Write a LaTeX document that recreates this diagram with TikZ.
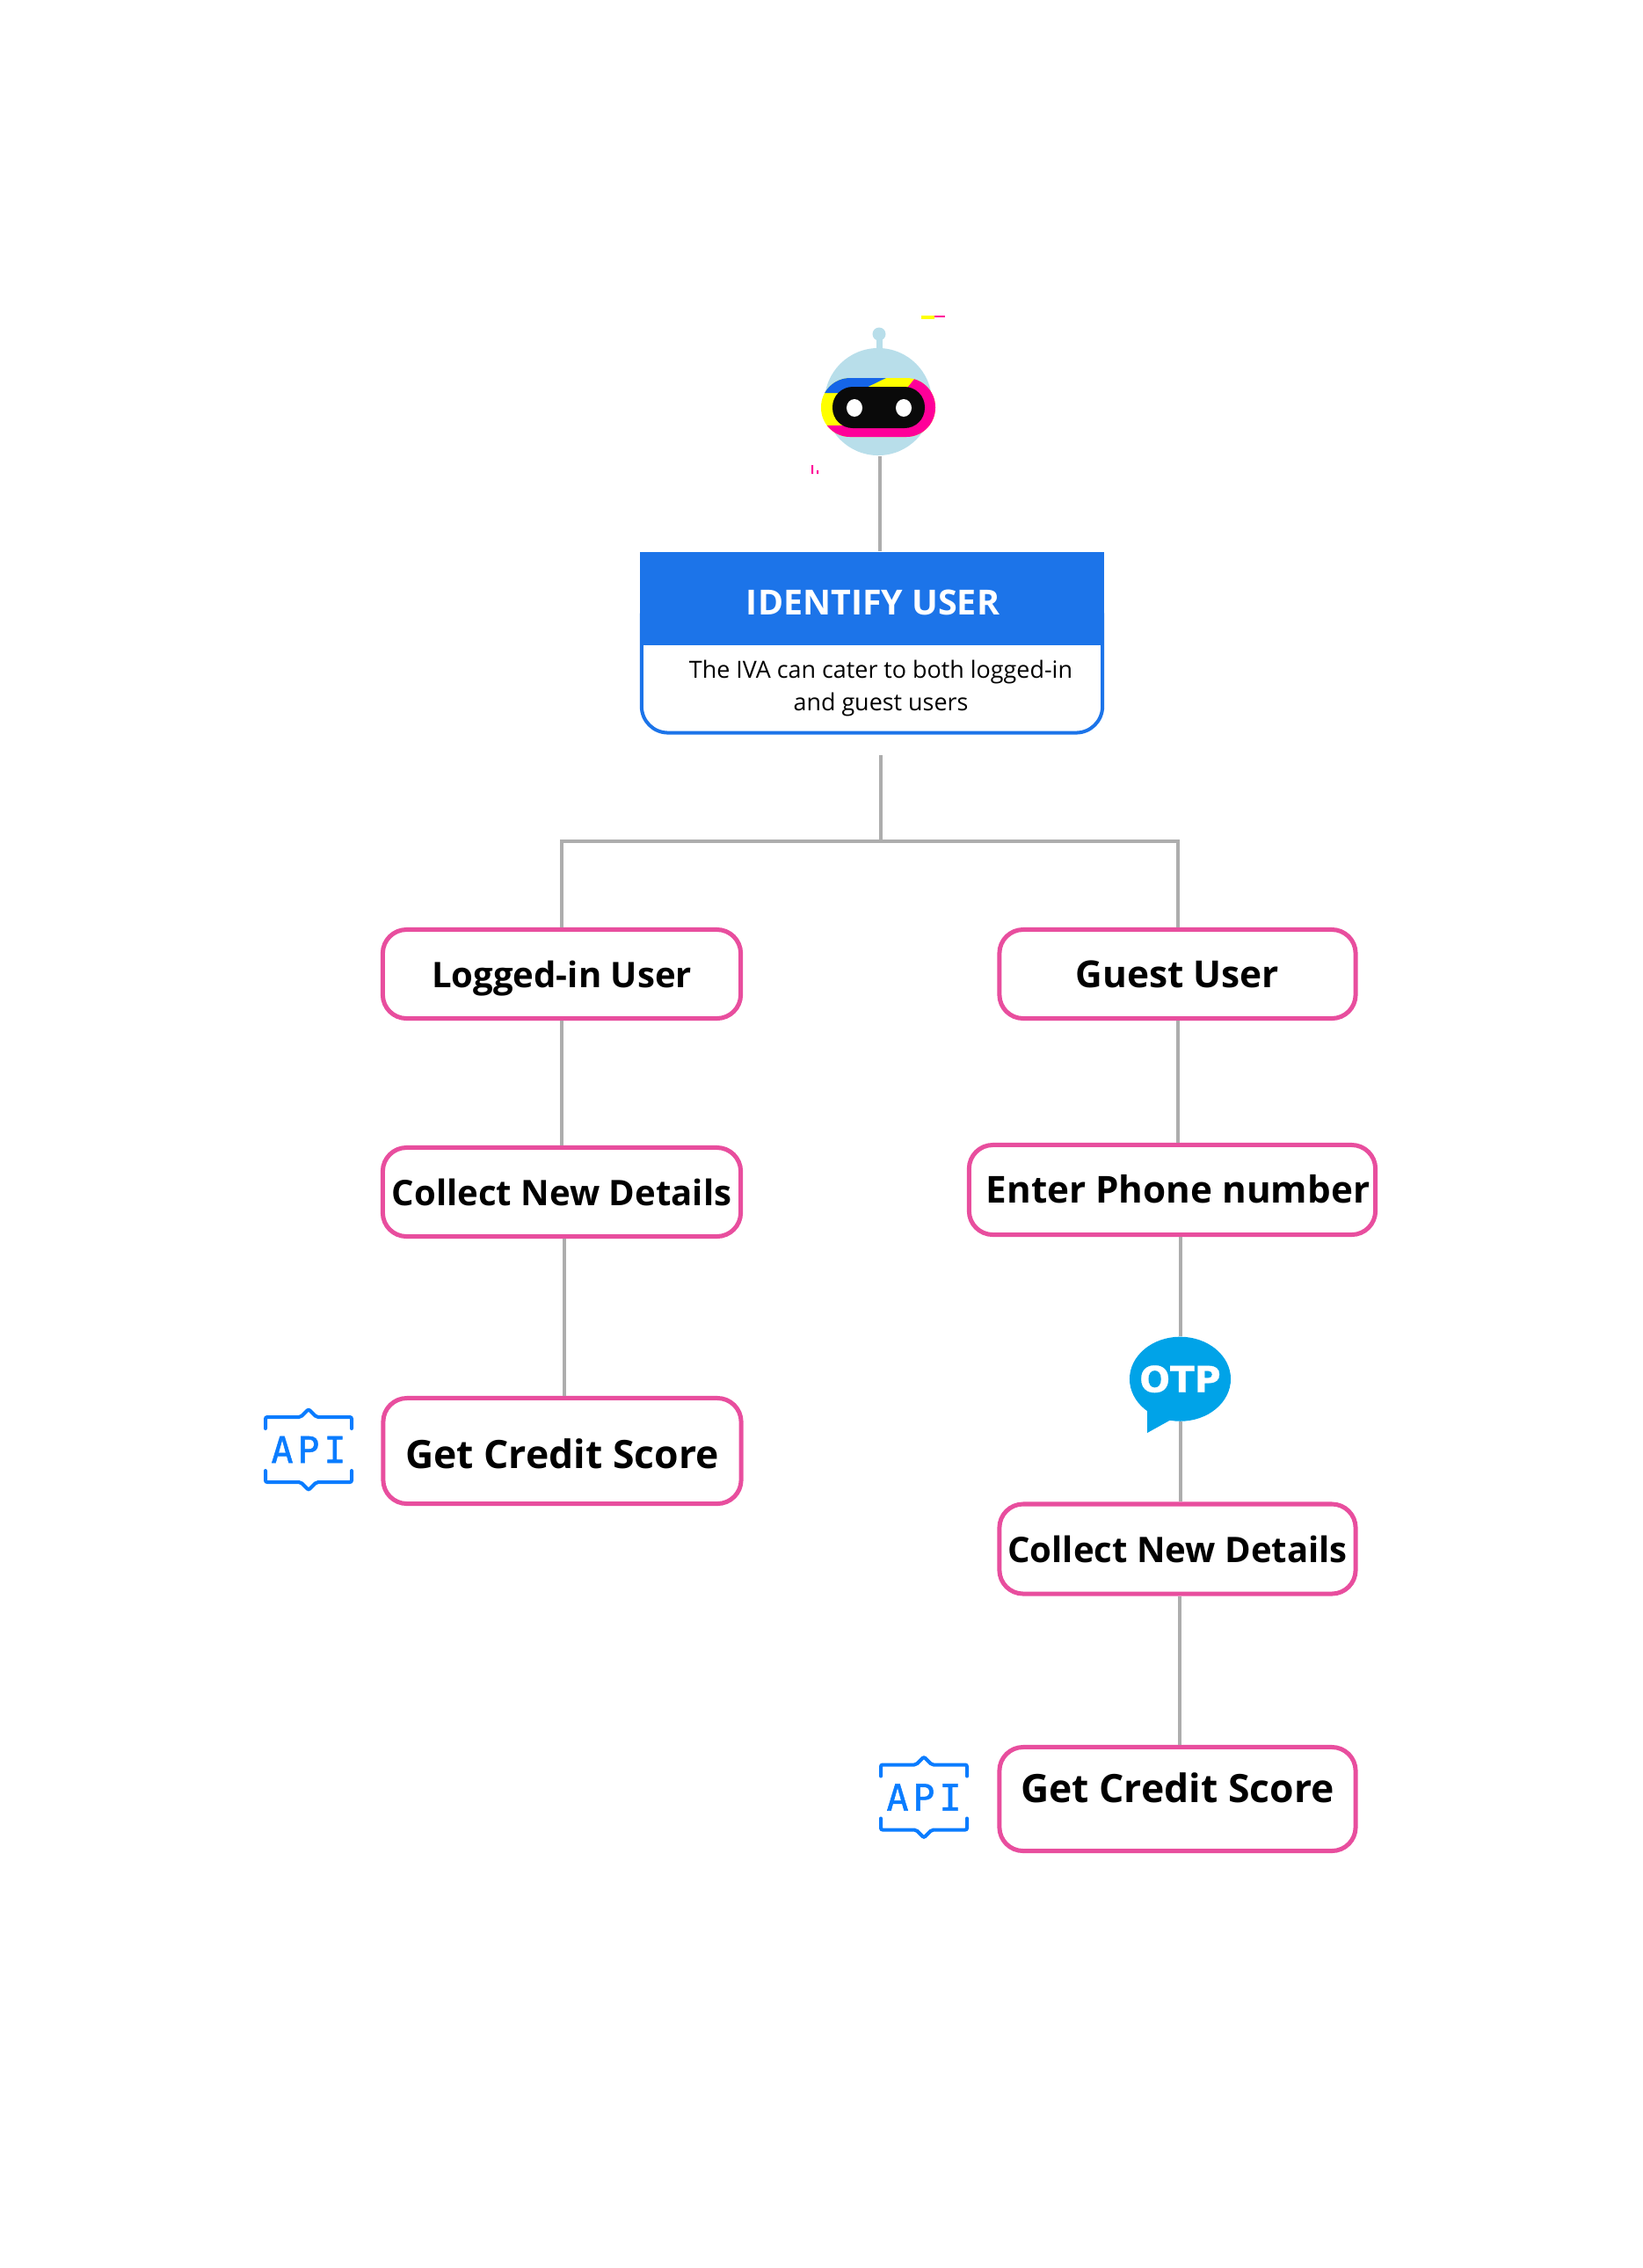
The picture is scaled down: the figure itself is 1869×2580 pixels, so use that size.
\documentclass[tikz,border=0pt]{standalone}
\usepackage{fontspec}
\setmainfont{Open Sans}
\newfontfamily\otpfont[FakeBold=0.6]{DejaVu Sans Bold}
\newfontfamily\apifont[LetterSpace=12,FakeBold=1.2]{DejaVu Sans Mono}
\usetikzlibrary{shapes.geometric}
\definecolor{linegray}{HTML}{ADADAD}
\definecolor{headblue}{HTML}{1C74E9}
\definecolor{boxpink}{HTML}{E84E9E}
\definecolor{apiblue}{HTML}{0A7CFF}
\definecolor{otpblue}{HTML}{00A3E8}
\definecolor{robotblue}{HTML}{B8DEEA}
\definecolor{bandblue}{HTML}{1565E8}
\definecolor{bandyellow}{HTML}{FFFF00}
\definecolor{bandpink}{HTML}{FF0099}
\definecolor{bandblack}{HTML}{0A0A0A}
\tikzset{
  pinkbox/.style={draw=boxpink,line width=0.05cm,fill=white,rounded corners=0.27cm,
    inner sep=0pt,text height=0.3cm,text depth=0pt,font=\fontsize{#1}{15}\selectfont\bfseries},
  connector/.style={draw=linegray,line width=0.04cm},
  apiicon/.pic={
    \draw[apiblue,line width=0.04cm,line cap=round,rounded corners=0.02cm]
      (-49,-24) -- (-49,-37) -- (-9,-37) -- (0,-46) -- (9,-37) -- (49,-37) -- (49,-24)
      (-49,24) -- (-49,37) -- (-9,37) -- (0,46) -- (9,37) -- (49,37) -- (49,24);
    \node[apiblue,inner sep=0pt,font=\apifont\fontsize{11.8}{14}\selectfont] (-label) at (0,0) {API};
  }
}
\begin{document}
\begin{tikzpicture}[x=0.01cm,y=-0.01cm]
  \useasboundingbox (0,0) rectangle (1869,2580);
  % robot
  \node[circle,fill=robotblue,minimum size=1.22cm,inner sep=0pt] (robot) at (999,457) {};
  \fill[robotblue] (996.5,380) rectangle (1003.5,400);
  \fill[robotblue] (1000,380) circle (7.5);
  \begin{scope}
    \clip[rounded corners=0.33cm] (934,430) rectangle (1064,497);
    \fill[bandyellow] (930,425) rectangle (1070,500);
    \fill[bandblue] (930,425) -- (1018,425) -- (973,447) -- (930,447) -- cycle;
    \fill[bandpink] (1045,425) -- (1070,425) -- (1070,500) -- (930,500) -- (930,484)
      -- (960,484) -- (1033,440) -- cycle;
  \end{scope}
  \fill[bandblack,rounded corners=0.23cm] (947,440) rectangle (1052,487);
  \fill[white] (972,464) ellipse (9 and 10) (1028,464) ellipse (9 and 10);
  \fill[bandpink] (923,529) rectangle (925,539) (929,535) rectangle (931,539);
  \fill[bandyellow] (1048,359) rectangle (1063,363);
  \fill[bandpink] (1063,359) rectangle (1075,361);
  % identify user
  \node[draw=headblue,line width=0.04cm,fill=white,rounded corners=0.3cm,minimum width=5.24cm,
    minimum height=1.63cm,inner sep=0pt] (identify) at (992,752) {};
  \node[fill=headblue,text=white,minimum width=5.28cm,minimum height=1.06cm,inner sep=0pt,
    font=\fontsize{11.2}{14}\selectfont\bfseries] (identifyhead) at (992,681) {};
  \node[text=white,inner sep=0pt,font=\fontsize{11.2}{14}\selectfont\bfseries] (identifylabel) at (993,685) {IDENTIFY USER};
  \node[align=center,inner sep=0pt,font=\fontsize{7.65}{10.5}\selectfont] (identifytext) at (1002,783)
    {The IVA can cater to both logged-in\\and guest users};
  \coordinate (trunktop) at (1002,859);
  \coordinate (trunkfork) at (1002,956.5);
  % left and right branches
  \draw
    (639,1108) node[pinkbox=11.4,minimum width=4.07cm,minimum height=1.01cm] (logged){Logged-in User}
    (639,1356) node[pinkbox=11.4,minimum width=4.07cm,minimum height=1.01cm] (collectleft){Collect New Details}
    (639.5,1650.5) node[pinkbox=12.65,minimum width=4.07cm,minimum height=1.2cm] (creditleft){\raisebox{-0.05cm}{Get Credit Score}}
    (1339.5,1108) node[pinkbox=12.05,minimum width=4.05cm,minimum height=1.01cm] (guest){Guest User}
    (1333.5,1353.5) node[pinkbox=12,minimum width=4.62cm,minimum height=1.02cm] (phone){\hspace*{0.13cm}Enter Phone number}
    (1339.5,1762) node[pinkbox=11.4,minimum width=4.05cm,minimum height=1.02cm] (collectright){Collect New Details}
    (1339.5,2046.5) node[pinkbox=12.65,minimum width=4.05cm,minimum height=1.18cm] (creditright){\raisebox{0.11cm}{Get Credit Score}};
  % otp bubble
  \fill[otpblue] (1305,1600) -- (1305,1630) -- (1332,1615) -- cycle;
  \node[ellipse,fill=otpblue,minimum width=1.15cm,minimum height=0.96cm,inner sep=0pt] (otp) at (1342.5,1568.7) {};
  \node[text=white,inner sep=0pt,font=\otpfont\fontsize{11.6}{14}\selectfont] (otplabel) at (otp) {OTP};
  \pic (apileft) at (351,1649) {apiicon};
  \pic (apiright) at (1051,2044.5) {apiicon};
  \begin{scope}[connector]
    \draw ([xshift=0.02cm]robot.south) to ([xshift=0.02cm]robot.south |- identifyhead.north);
    \draw (trunktop) to (trunkfork);
    \draw (logged.north) |- (trunkfork);
    \draw (guest.north) |- (trunkfork);
    \draw (logged.south) to (collectleft.north);
    \draw ([xshift=0.03cm]collectleft.south) to ([xshift=0.03cm]collectleft.south |- creditleft.north);
    \draw (guest.south) to (guest.south |- phone.north);
    \draw (otp.north |- phone.south) to (otp.north);
    \draw (otp.south) to (otp.south |- collectright.north);
    \draw ([xshift=0.02cm]collectright.south) to ([xshift=0.02cm]collectright.south |- creditright.north);
  \end{scope}
\end{tikzpicture}
\end{document}
